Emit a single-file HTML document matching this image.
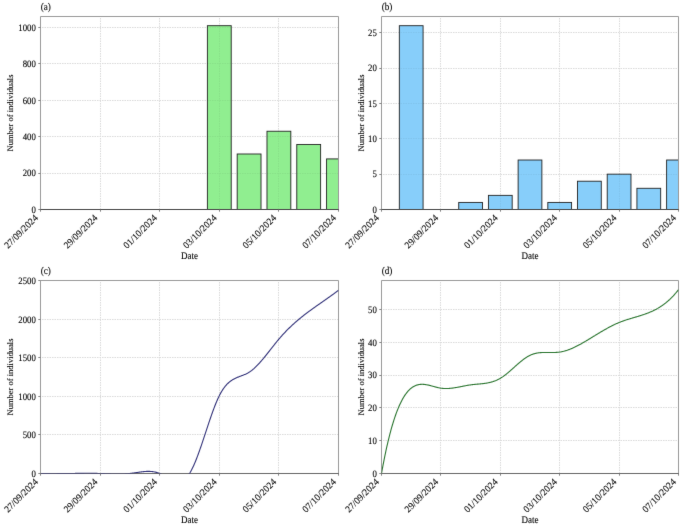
<!DOCTYPE html>
<html><head><meta charset="utf-8"><style>
html,body{margin:0;padding:0;background:#fff;width:685px;height:527px;overflow:hidden;}
svg{display:block;text-rendering:geometricPrecision;}
</style></head><body>
<svg width="685" height="527" viewBox="0 0 685 527">
<defs><filter id="sb" x="0" y="0" width="685" height="527" filterUnits="userSpaceOnUse" color-interpolation-filters="sRGB"><feConvolveMatrix order="3" kernelMatrix="0.0072 0.0847 0.0072 0.0847 1.0000 0.0847 0.0072 0.0847 0.0072" divisor="1.3673" edgeMode="duplicate"/></filter></defs>
<rect width="685" height="527" fill="#fff"/>
<g filter="url(#sb)">
<clipPath id="clipa"><rect x="40.5" y="16.5" width="298.0" height="193.0"/></clipPath>
<clipPath id="clipla"><rect x="40.5" y="16.5" width="298.0" height="193.0"/></clipPath>
<line x1="40.5" y1="18" x2="40.5" y2="209" stroke="#dadada" stroke-width="1" stroke-dasharray="1.5 1"/><line x1="100.5" y1="18" x2="100.5" y2="209" stroke="#dadada" stroke-width="1" stroke-dasharray="1.5 1"/><line x1="159.5" y1="18" x2="159.5" y2="209" stroke="#dadada" stroke-width="1" stroke-dasharray="1.5 1"/><line x1="219.5" y1="18" x2="219.5" y2="209" stroke="#dadada" stroke-width="1" stroke-dasharray="1.5 1"/><line x1="278.5" y1="18" x2="278.5" y2="209" stroke="#dadada" stroke-width="1" stroke-dasharray="1.5 1"/><line x1="338.5" y1="18" x2="338.5" y2="209" stroke="#dadada" stroke-width="1" stroke-dasharray="1.5 1"/><line x1="42" y1="209.5" x2="338" y2="209.5" stroke="#dadada" stroke-width="1" stroke-dasharray="1.5 1"/><line x1="42" y1="173.5" x2="338" y2="173.5" stroke="#dadada" stroke-width="1" stroke-dasharray="1.5 1"/><line x1="42" y1="136.5" x2="338" y2="136.5" stroke="#dadada" stroke-width="1" stroke-dasharray="1.5 1"/><line x1="42" y1="100.5" x2="338" y2="100.5" stroke="#dadada" stroke-width="1" stroke-dasharray="1.5 1"/><line x1="42" y1="63.5" x2="338" y2="63.5" stroke="#dadada" stroke-width="1" stroke-dasharray="1.5 1"/><line x1="42" y1="27.5" x2="338" y2="27.5" stroke="#dadada" stroke-width="1" stroke-dasharray="1.5 1"/>
<g clip-path="url(#clipa)"><rect x="28.58" y="209.50" width="23.84" height="0.00" fill="#90ee90" stroke="#222" stroke-width="0.9"/><rect x="58.38" y="209.50" width="23.84" height="0.00" fill="#90ee90" stroke="#222" stroke-width="0.9"/><rect x="88.18" y="209.50" width="23.84" height="0.00" fill="#90ee90" stroke="#222" stroke-width="0.9"/><rect x="117.98" y="209.50" width="23.84" height="0.00" fill="#90ee90" stroke="#222" stroke-width="0.9"/><rect x="147.78" y="209.50" width="23.84" height="0.00" fill="#90ee90" stroke="#222" stroke-width="0.9"/><rect x="177.58" y="209.50" width="23.84" height="0.00" fill="#90ee90" stroke="#222" stroke-width="0.9"/><rect x="207.38" y="25.69" width="23.84" height="183.81" fill="#90ee90" stroke="#222" stroke-width="0.9"/><rect x="237.18" y="153.99" width="23.84" height="55.51" fill="#90ee90" stroke="#222" stroke-width="0.9"/><rect x="266.98" y="131.24" width="23.84" height="78.26" fill="#90ee90" stroke="#222" stroke-width="0.9"/><rect x="296.78" y="144.53" width="23.84" height="64.97" fill="#90ee90" stroke="#222" stroke-width="0.9"/><rect x="326.58" y="158.91" width="23.84" height="50.59" fill="#90ee90" stroke="#222" stroke-width="0.9"/></g>
<clipPath id="barsa"><rect x="207.38" y="25.69" width="23.84" height="183.81"/><rect x="237.18" y="153.99" width="23.84" height="55.51"/><rect x="266.98" y="131.24" width="23.84" height="78.26"/><rect x="296.78" y="144.53" width="23.84" height="64.97"/><rect x="326.58" y="158.91" width="23.84" height="50.59"/></clipPath>
<g opacity="0.05" clip-path="url(#barsa)"><line x1="40.5" y1="18" x2="40.5" y2="209" stroke="#000" stroke-width="1" stroke-dasharray="1.5 1"/><line x1="100.5" y1="18" x2="100.5" y2="209" stroke="#000" stroke-width="1" stroke-dasharray="1.5 1"/><line x1="159.5" y1="18" x2="159.5" y2="209" stroke="#000" stroke-width="1" stroke-dasharray="1.5 1"/><line x1="219.5" y1="18" x2="219.5" y2="209" stroke="#000" stroke-width="1" stroke-dasharray="1.5 1"/><line x1="278.5" y1="18" x2="278.5" y2="209" stroke="#000" stroke-width="1" stroke-dasharray="1.5 1"/><line x1="338.5" y1="18" x2="338.5" y2="209" stroke="#000" stroke-width="1" stroke-dasharray="1.5 1"/><line x1="42" y1="209.5" x2="338" y2="209.5" stroke="#000" stroke-width="1" stroke-dasharray="1.5 1"/><line x1="42" y1="173.5" x2="338" y2="173.5" stroke="#000" stroke-width="1" stroke-dasharray="1.5 1"/><line x1="42" y1="136.5" x2="338" y2="136.5" stroke="#000" stroke-width="1" stroke-dasharray="1.5 1"/><line x1="42" y1="100.5" x2="338" y2="100.5" stroke="#000" stroke-width="1" stroke-dasharray="1.5 1"/><line x1="42" y1="63.5" x2="338" y2="63.5" stroke="#000" stroke-width="1" stroke-dasharray="1.5 1"/><line x1="42" y1="27.5" x2="338" y2="27.5" stroke="#000" stroke-width="1" stroke-dasharray="1.5 1"/></g>
<path d="M40.5,209.5V16.5H338.5V209.5" fill="none" stroke="#999" stroke-width="1"/>
<line x1="40.0" y1="209.5" x2="339.0" y2="209.5" stroke="#444" stroke-width="1"/>
<line x1="40.5" y1="209.5" x2="40.5" y2="211.7" stroke="#777" stroke-width="0.9"/><line x1="100.5" y1="209.5" x2="100.5" y2="211.7" stroke="#777" stroke-width="0.9"/><line x1="159.5" y1="209.5" x2="159.5" y2="211.7" stroke="#777" stroke-width="0.9"/><line x1="219.5" y1="209.5" x2="219.5" y2="211.7" stroke="#777" stroke-width="0.9"/><line x1="278.5" y1="209.5" x2="278.5" y2="211.7" stroke="#777" stroke-width="0.9"/><line x1="338.5" y1="209.5" x2="338.5" y2="211.7" stroke="#777" stroke-width="0.9"/><line x1="38.3" y1="209.5" x2="40.5" y2="209.5" stroke="#777" stroke-width="0.9"/><line x1="38.3" y1="173.5" x2="40.5" y2="173.5" stroke="#777" stroke-width="0.9"/><line x1="38.3" y1="136.5" x2="40.5" y2="136.5" stroke="#777" stroke-width="0.9"/><line x1="38.3" y1="100.5" x2="40.5" y2="100.5" stroke="#777" stroke-width="0.9"/><line x1="38.3" y1="63.5" x2="40.5" y2="63.5" stroke="#777" stroke-width="0.9"/><line x1="38.3" y1="27.5" x2="40.5" y2="27.5" stroke="#777" stroke-width="0.9"/>
<g font-family='"Liberation Serif", serif' fill="#000" stroke="#000" stroke-width="0.1"><text transform="translate(35.90 212.80) scale(1 1.12)" font-size="8.8" text-anchor="end">0</text><text transform="translate(35.90 176.40) scale(1 1.12)" font-size="8.8" text-anchor="end">200</text><text transform="translate(35.90 140.00) scale(1 1.12)" font-size="8.8" text-anchor="end">400</text><text transform="translate(35.90 103.61) scale(1 1.12)" font-size="8.8" text-anchor="end">600</text><text transform="translate(35.90 67.21) scale(1 1.12)" font-size="8.8" text-anchor="end">800</text><text transform="translate(35.90 30.81) scale(1 1.12)" font-size="8.8" text-anchor="end">1000</text><text transform="translate(38.50 218.50) rotate(-45)" font-size="9.5" text-anchor="end">27/09/2024</text><text transform="translate(98.10 218.50) rotate(-45)" font-size="9.5" text-anchor="end">29/09/2024</text><text transform="translate(157.70 218.50) rotate(-45)" font-size="9.5" text-anchor="end">01/10/2024</text><text transform="translate(217.30 218.50) rotate(-45)" font-size="9.5" text-anchor="end">03/10/2024</text><text transform="translate(276.90 218.50) rotate(-45)" font-size="9.5" text-anchor="end">05/10/2024</text><text transform="translate(336.50 218.50) rotate(-45)" font-size="9.5" text-anchor="end">07/10/2024</text><text transform="translate(189.50 259.00) scale(1 1.12)" font-size="9.0" text-anchor="middle">Date</text><text transform="translate(13.20 113.00) rotate(-90)" font-size="8.5" text-anchor="middle">Number of individuals</text><text transform="translate(40.70 10.00) scale(1 1.12)" font-size="9.2">(a)</text></g>
<clipPath id="clipb"><rect x="381.5" y="16.5" width="297.0" height="193.0"/></clipPath>
<clipPath id="cliplb"><rect x="381.5" y="16.5" width="297.0" height="193.0"/></clipPath>
<line x1="381.5" y1="18" x2="381.5" y2="209" stroke="#dadada" stroke-width="1" stroke-dasharray="1.5 1"/><line x1="440.5" y1="18" x2="440.5" y2="209" stroke="#dadada" stroke-width="1" stroke-dasharray="1.5 1"/><line x1="500.5" y1="18" x2="500.5" y2="209" stroke="#dadada" stroke-width="1" stroke-dasharray="1.5 1"/><line x1="559.5" y1="18" x2="559.5" y2="209" stroke="#dadada" stroke-width="1" stroke-dasharray="1.5 1"/><line x1="619.5" y1="18" x2="619.5" y2="209" stroke="#dadada" stroke-width="1" stroke-dasharray="1.5 1"/><line x1="678.5" y1="18" x2="678.5" y2="209" stroke="#dadada" stroke-width="1" stroke-dasharray="1.5 1"/><line x1="383" y1="209.5" x2="678" y2="209.5" stroke="#dadada" stroke-width="1" stroke-dasharray="1.5 1"/><line x1="383" y1="174.5" x2="678" y2="174.5" stroke="#dadada" stroke-width="1" stroke-dasharray="1.5 1"/><line x1="383" y1="138.5" x2="678" y2="138.5" stroke="#dadada" stroke-width="1" stroke-dasharray="1.5 1"/><line x1="383" y1="103.5" x2="678" y2="103.5" stroke="#dadada" stroke-width="1" stroke-dasharray="1.5 1"/><line x1="383" y1="68.5" x2="678" y2="68.5" stroke="#dadada" stroke-width="1" stroke-dasharray="1.5 1"/><line x1="383" y1="32.5" x2="678" y2="32.5" stroke="#dadada" stroke-width="1" stroke-dasharray="1.5 1"/>
<g clip-path="url(#clipb)"><rect x="369.62" y="209.50" width="23.76" height="0.00" fill="#87cefa" stroke="#222" stroke-width="0.9"/><rect x="399.32" y="25.69" width="23.76" height="183.81" fill="#87cefa" stroke="#222" stroke-width="0.9"/><rect x="429.02" y="209.50" width="23.76" height="0.00" fill="#87cefa" stroke="#222" stroke-width="0.9"/><rect x="458.72" y="202.43" width="23.76" height="7.07" fill="#87cefa" stroke="#222" stroke-width="0.9"/><rect x="488.42" y="195.36" width="23.76" height="14.14" fill="#87cefa" stroke="#222" stroke-width="0.9"/><rect x="518.12" y="160.01" width="23.76" height="49.49" fill="#87cefa" stroke="#222" stroke-width="0.9"/><rect x="547.82" y="202.43" width="23.76" height="7.07" fill="#87cefa" stroke="#222" stroke-width="0.9"/><rect x="577.52" y="181.22" width="23.76" height="28.28" fill="#87cefa" stroke="#222" stroke-width="0.9"/><rect x="607.22" y="174.15" width="23.76" height="35.35" fill="#87cefa" stroke="#222" stroke-width="0.9"/><rect x="636.92" y="188.29" width="23.76" height="21.21" fill="#87cefa" stroke="#222" stroke-width="0.9"/><rect x="666.62" y="160.01" width="23.76" height="49.49" fill="#87cefa" stroke="#222" stroke-width="0.9"/></g>
<clipPath id="barsb"><rect x="399.32" y="25.69" width="23.76" height="183.81"/><rect x="458.72" y="202.43" width="23.76" height="7.07"/><rect x="488.42" y="195.36" width="23.76" height="14.14"/><rect x="518.12" y="160.01" width="23.76" height="49.49"/><rect x="547.82" y="202.43" width="23.76" height="7.07"/><rect x="577.52" y="181.22" width="23.76" height="28.28"/><rect x="607.22" y="174.15" width="23.76" height="35.35"/><rect x="636.92" y="188.29" width="23.76" height="21.21"/><rect x="666.62" y="160.01" width="23.76" height="49.49"/></clipPath>
<g opacity="0.05" clip-path="url(#barsb)"><line x1="381.5" y1="18" x2="381.5" y2="209" stroke="#000" stroke-width="1" stroke-dasharray="1.5 1"/><line x1="440.5" y1="18" x2="440.5" y2="209" stroke="#000" stroke-width="1" stroke-dasharray="1.5 1"/><line x1="500.5" y1="18" x2="500.5" y2="209" stroke="#000" stroke-width="1" stroke-dasharray="1.5 1"/><line x1="559.5" y1="18" x2="559.5" y2="209" stroke="#000" stroke-width="1" stroke-dasharray="1.5 1"/><line x1="619.5" y1="18" x2="619.5" y2="209" stroke="#000" stroke-width="1" stroke-dasharray="1.5 1"/><line x1="678.5" y1="18" x2="678.5" y2="209" stroke="#000" stroke-width="1" stroke-dasharray="1.5 1"/><line x1="383" y1="209.5" x2="678" y2="209.5" stroke="#000" stroke-width="1" stroke-dasharray="1.5 1"/><line x1="383" y1="174.5" x2="678" y2="174.5" stroke="#000" stroke-width="1" stroke-dasharray="1.5 1"/><line x1="383" y1="138.5" x2="678" y2="138.5" stroke="#000" stroke-width="1" stroke-dasharray="1.5 1"/><line x1="383" y1="103.5" x2="678" y2="103.5" stroke="#000" stroke-width="1" stroke-dasharray="1.5 1"/><line x1="383" y1="68.5" x2="678" y2="68.5" stroke="#000" stroke-width="1" stroke-dasharray="1.5 1"/><line x1="383" y1="32.5" x2="678" y2="32.5" stroke="#000" stroke-width="1" stroke-dasharray="1.5 1"/></g>
<path d="M381.5,209.5V16.5H678.5V209.5" fill="none" stroke="#999" stroke-width="1"/>
<line x1="381.0" y1="209.5" x2="679.0" y2="209.5" stroke="#444" stroke-width="1"/>
<line x1="381.5" y1="209.5" x2="381.5" y2="211.7" stroke="#777" stroke-width="0.9"/><line x1="440.5" y1="209.5" x2="440.5" y2="211.7" stroke="#777" stroke-width="0.9"/><line x1="500.5" y1="209.5" x2="500.5" y2="211.7" stroke="#777" stroke-width="0.9"/><line x1="559.5" y1="209.5" x2="559.5" y2="211.7" stroke="#777" stroke-width="0.9"/><line x1="619.5" y1="209.5" x2="619.5" y2="211.7" stroke="#777" stroke-width="0.9"/><line x1="678.5" y1="209.5" x2="678.5" y2="211.7" stroke="#777" stroke-width="0.9"/><line x1="379.3" y1="209.5" x2="381.5" y2="209.5" stroke="#777" stroke-width="0.9"/><line x1="379.3" y1="174.5" x2="381.5" y2="174.5" stroke="#777" stroke-width="0.9"/><line x1="379.3" y1="138.5" x2="381.5" y2="138.5" stroke="#777" stroke-width="0.9"/><line x1="379.3" y1="103.5" x2="381.5" y2="103.5" stroke="#777" stroke-width="0.9"/><line x1="379.3" y1="68.5" x2="381.5" y2="68.5" stroke="#777" stroke-width="0.9"/><line x1="379.3" y1="32.5" x2="381.5" y2="32.5" stroke="#777" stroke-width="0.9"/>
<g font-family='"Liberation Serif", serif' fill="#000" stroke="#000" stroke-width="0.1"><text transform="translate(376.90 212.80) scale(1 1.12)" font-size="8.8" text-anchor="end">0</text><text transform="translate(376.90 177.45) scale(1 1.12)" font-size="8.8" text-anchor="end">5</text><text transform="translate(376.90 142.10) scale(1 1.12)" font-size="8.8" text-anchor="end">10</text><text transform="translate(376.90 106.76) scale(1 1.12)" font-size="8.8" text-anchor="end">15</text><text transform="translate(376.90 71.41) scale(1 1.12)" font-size="8.8" text-anchor="end">20</text><text transform="translate(376.90 36.06) scale(1 1.12)" font-size="8.8" text-anchor="end">25</text><text transform="translate(379.50 218.50) rotate(-45)" font-size="9.5" text-anchor="end">27/09/2024</text><text transform="translate(438.90 218.50) rotate(-45)" font-size="9.5" text-anchor="end">29/09/2024</text><text transform="translate(498.30 218.50) rotate(-45)" font-size="9.5" text-anchor="end">01/10/2024</text><text transform="translate(557.70 218.50) rotate(-45)" font-size="9.5" text-anchor="end">03/10/2024</text><text transform="translate(617.10 218.50) rotate(-45)" font-size="9.5" text-anchor="end">05/10/2024</text><text transform="translate(676.50 218.50) rotate(-45)" font-size="9.5" text-anchor="end">07/10/2024</text><text transform="translate(530.00 259.00) scale(1 1.12)" font-size="9.0" text-anchor="middle">Date</text><text transform="translate(363.50 113.00) rotate(-90)" font-size="8.5" text-anchor="middle">Number of individuals</text><text transform="translate(381.70 10.00) scale(1 1.12)" font-size="9.2">(b)</text></g>
<clipPath id="clipc"><rect x="40.5" y="280.5" width="298.0" height="193.0"/></clipPath>
<clipPath id="cliplc"><rect x="40.5" y="280.5" width="298.0" height="193.0"/></clipPath>
<line x1="40.5" y1="282" x2="40.5" y2="473" stroke="#dadada" stroke-width="1" stroke-dasharray="1.5 1"/><line x1="100.5" y1="282" x2="100.5" y2="473" stroke="#dadada" stroke-width="1" stroke-dasharray="1.5 1"/><line x1="159.5" y1="282" x2="159.5" y2="473" stroke="#dadada" stroke-width="1" stroke-dasharray="1.5 1"/><line x1="219.5" y1="282" x2="219.5" y2="473" stroke="#dadada" stroke-width="1" stroke-dasharray="1.5 1"/><line x1="278.5" y1="282" x2="278.5" y2="473" stroke="#dadada" stroke-width="1" stroke-dasharray="1.5 1"/><line x1="338.5" y1="282" x2="338.5" y2="473" stroke="#dadada" stroke-width="1" stroke-dasharray="1.5 1"/><line x1="42" y1="473.5" x2="338" y2="473.5" stroke="#dadada" stroke-width="1" stroke-dasharray="1.5 1"/><line x1="42" y1="434.5" x2="338" y2="434.5" stroke="#dadada" stroke-width="1" stroke-dasharray="1.5 1"/><line x1="42" y1="396.5" x2="338" y2="396.5" stroke="#dadada" stroke-width="1" stroke-dasharray="1.5 1"/><line x1="42" y1="357.5" x2="338" y2="357.5" stroke="#dadada" stroke-width="1" stroke-dasharray="1.5 1"/><line x1="42" y1="319.5" x2="338" y2="319.5" stroke="#dadada" stroke-width="1" stroke-dasharray="1.5 1"/><line x1="42" y1="280.5" x2="338" y2="280.5" stroke="#dadada" stroke-width="1" stroke-dasharray="1.5 1"/>
<path d="M40.5,473.5V280.5H338.5V473.5" fill="none" stroke="#999" stroke-width="1"/>
<line x1="40.0" y1="473.5" x2="339.0" y2="473.5" stroke="#666" stroke-width="1"/>
<polyline clip-path="url(#cliplc)" points="40.50,473.50 41.00,473.52 41.49,473.53 41.99,473.54 42.49,473.56 42.99,473.57 43.48,473.58 43.98,473.59 44.48,473.60 44.98,473.61 45.47,473.62 45.97,473.63 46.47,473.64 46.97,473.65 47.46,473.65 47.96,473.66 48.46,473.66 48.96,473.67 49.45,473.67 49.95,473.67 50.45,473.68 50.95,473.68 51.44,473.68 51.94,473.68 52.44,473.68 52.94,473.68 53.43,473.68 53.93,473.68 54.43,473.68 54.93,473.68 55.42,473.68 55.92,473.68 56.42,473.68 56.92,473.67 57.41,473.67 57.91,473.67 58.41,473.66 58.91,473.66 59.40,473.65 59.90,473.65 60.40,473.64 60.90,473.64 61.39,473.63 61.89,473.62 62.39,473.62 62.89,473.61 63.38,473.61 63.88,473.60 64.38,473.59 64.88,473.58 65.37,473.58 65.87,473.57 66.37,473.56 66.87,473.55 67.36,473.55 67.86,473.54 68.36,473.53 68.86,473.52 69.35,473.52 69.85,473.51 70.35,473.50 70.85,473.49 71.34,473.48 71.84,473.48 72.34,473.47 72.84,473.46 73.33,473.45 73.83,473.44 74.33,473.44 74.83,473.43 75.32,473.42 75.82,473.41 76.32,473.41 76.82,473.40 77.31,473.39 77.81,473.39 78.31,473.38 78.81,473.37 79.30,473.37 79.80,473.36 80.30,473.36 80.80,473.35 81.29,473.35 81.79,473.34 82.29,473.34 82.79,473.33 83.28,473.33 83.78,473.33 84.28,473.32 84.78,473.32 85.27,473.32 85.77,473.32 86.27,473.32 86.77,473.32 87.26,473.32 87.76,473.32 88.26,473.32 88.76,473.32 89.25,473.32 89.75,473.32 90.25,473.32 90.75,473.33 91.24,473.33 91.74,473.33 92.24,473.34 92.74,473.34 93.23,473.35 93.73,473.36 94.23,473.36 94.73,473.37 95.22,473.38 95.72,473.39 96.22,473.40 96.72,473.41 97.21,473.42 97.71,473.43 98.21,473.44 98.71,473.46 99.20,473.47 99.70,473.49 100.20,473.50 100.70,473.52 101.19,473.54 101.69,473.56 102.19,473.57 102.69,473.59 103.18,473.61 103.68,473.63 104.18,473.65 104.68,473.67 105.17,473.69 105.67,473.71 106.17,473.73 106.67,473.76 107.16,473.78 107.66,473.80 108.16,473.82 108.66,473.84 109.15,473.86 109.65,473.88 110.15,473.90 110.65,473.91 111.14,473.93 111.64,473.95 112.14,473.96 112.64,473.98 113.13,473.99 113.63,474.01 114.13,474.02 114.63,474.03 115.12,474.04 115.62,474.05 116.12,474.06 116.62,474.07 117.11,474.07 117.61,474.07 118.11,474.08 118.61,474.08 119.10,474.08 119.60,474.07 120.10,474.07 120.60,474.06 121.09,474.05 121.59,474.04 122.09,474.03 122.59,474.01 123.08,474.00 123.58,473.98 124.08,473.95 124.58,473.93 125.07,473.90 125.57,473.87 126.07,473.84 126.57,473.81 127.06,473.77 127.56,473.73 128.06,473.69 128.56,473.64 129.05,473.59 129.55,473.54 130.05,473.48 130.55,473.42 131.04,473.36 131.54,473.30 132.04,473.23 132.54,473.16 133.03,473.09 133.53,473.02 134.03,472.95 134.53,472.87 135.02,472.80 135.52,472.72 136.02,472.65 136.52,472.57 137.01,472.49 137.51,472.42 138.01,472.34 138.51,472.27 139.00,472.20 139.50,472.12 140.00,472.06 140.50,471.99 140.99,471.92 141.49,471.86 141.99,471.80 142.49,471.74 142.98,471.69 143.48,471.64 143.98,471.59 144.48,471.55 144.97,471.51 145.47,471.47 145.97,471.44 146.47,471.42 146.96,471.40 147.46,471.39 147.96,471.38 148.46,471.38 148.95,471.38 149.45,471.39 149.95,471.41 150.45,471.43 150.94,471.47 151.44,471.51 151.94,471.55 152.44,471.61 152.93,471.67 153.43,471.75 153.93,471.83 154.43,471.92 154.92,472.02 155.42,472.13 155.92,472.25 156.42,472.38 156.91,472.51 157.41,472.67 157.91,472.83 158.41,473.00 158.90,473.18 159.40,473.38 159.90,473.58 160.40,473.80 160.89,474.03 161.39,474.27 161.89,474.52 162.39,474.78 162.88,475.04 163.38,475.31 163.88,475.58 164.38,475.86 164.87,476.14 165.37,476.42 165.87,476.71 166.37,476.99 166.86,477.27 167.36,477.56 167.86,477.84 168.36,478.11 168.85,478.38 169.35,478.65 169.85,478.91 170.35,479.16 170.84,479.40 171.34,479.64 171.84,479.86 172.34,480.08 172.83,480.28 173.33,480.46 173.83,480.64 174.33,480.80 174.82,480.94 175.32,481.07 175.82,481.18 176.32,481.26 176.81,481.33 177.31,481.38 177.81,481.41 178.31,481.42 178.80,481.40 179.30,481.35 179.80,481.29 180.30,481.19 180.79,481.07 181.29,480.92 181.79,480.74 182.29,480.53 182.78,480.29 183.28,480.01 183.78,479.71 184.28,479.37 184.77,478.99 185.27,478.58 185.77,478.13 186.27,477.65 186.76,477.12 187.26,476.56 187.76,475.95 188.26,475.30 188.75,474.62 189.25,473.88 189.75,473.11 190.25,472.28 190.74,471.42 191.24,470.51 191.74,469.57 192.24,468.58 192.73,467.56 193.23,466.50 193.73,465.41 194.23,464.29 194.72,463.13 195.22,461.94 195.72,460.72 196.22,459.48 196.71,458.21 197.21,456.91 197.71,455.59 198.21,454.25 198.70,452.89 199.20,451.51 199.70,450.11 200.20,448.69 200.69,447.26 201.19,445.81 201.69,444.35 202.19,442.88 202.68,441.40 203.18,439.92 203.68,438.42 204.18,436.92 204.67,435.42 205.17,433.91 205.67,432.40 206.17,430.89 206.66,429.38 207.16,427.88 207.66,426.37 208.16,424.88 208.65,423.39 209.15,421.91 209.65,420.44 210.15,418.97 210.64,417.53 211.14,416.09 211.64,414.67 212.14,413.27 212.63,411.88 213.13,410.52 213.63,409.17 214.13,407.85 214.62,406.55 215.12,405.27 215.62,404.02 216.12,402.80 216.61,401.60 217.11,400.44 217.61,399.31 218.11,398.21 218.60,397.14 219.10,396.12 219.60,395.12 220.10,394.17 220.59,393.25 221.09,392.37 221.59,391.52 222.09,390.70 222.58,389.92 223.08,389.17 223.58,388.45 224.08,387.76 224.57,387.10 225.07,386.47 225.57,385.87 226.07,385.29 226.56,384.74 227.06,384.21 227.56,383.71 228.06,383.23 228.55,382.77 229.05,382.33 229.55,381.92 230.05,381.52 230.54,381.14 231.04,380.78 231.54,380.44 232.04,380.11 232.53,379.80 233.03,379.50 233.53,379.22 234.03,378.95 234.52,378.69 235.02,378.44 235.52,378.20 236.02,377.97 236.51,377.75 237.01,377.54 237.51,377.33 238.01,377.13 238.50,376.93 239.00,376.74 239.50,376.55 240.00,376.36 240.49,376.17 240.99,375.98 241.49,375.80 241.99,375.61 242.48,375.42 242.98,375.22 243.48,375.02 243.98,374.82 244.47,374.61 244.97,374.39 245.47,374.17 245.97,373.94 246.46,373.70 246.96,373.44 247.46,373.18 247.96,372.91 248.45,372.62 248.95,372.32 249.45,372.00 249.95,371.67 250.44,371.33 250.94,370.97 251.44,370.60 251.94,370.21 252.43,369.81 252.93,369.40 253.43,368.98 253.93,368.55 254.42,368.10 254.92,367.64 255.42,367.17 255.92,366.69 256.41,366.20 256.91,365.71 257.41,365.20 257.91,364.68 258.40,364.15 258.90,363.62 259.40,363.08 259.90,362.53 260.39,361.97 260.89,361.40 261.39,360.83 261.89,360.25 262.38,359.67 262.88,359.08 263.38,358.48 263.88,357.88 264.37,357.28 264.87,356.67 265.37,356.05 265.87,355.44 266.36,354.82 266.86,354.19 267.36,353.57 267.86,352.94 268.35,352.31 268.85,351.68 269.35,351.04 269.85,350.41 270.34,349.77 270.84,349.14 271.34,348.50 271.84,347.87 272.33,347.24 272.83,346.60 273.33,345.97 273.83,345.34 274.32,344.72 274.82,344.09 275.32,343.47 275.82,342.85 276.31,342.24 276.81,341.63 277.31,341.02 277.81,340.42 278.30,339.82 278.80,339.23 279.30,338.64 279.80,338.06 280.29,337.48 280.79,336.91 281.29,336.35 281.79,335.79 282.28,335.23 282.78,334.68 283.28,334.14 283.78,333.60 284.27,333.07 284.77,332.54 285.27,332.01 285.77,331.50 286.26,330.98 286.76,330.47 287.26,329.97 287.76,329.46 288.25,328.97 288.75,328.48 289.25,327.99 289.75,327.51 290.24,327.03 290.74,326.55 291.24,326.08 291.74,325.61 292.23,325.15 292.73,324.69 293.23,324.24 293.73,323.78 294.22,323.34 294.72,322.89 295.22,322.45 295.72,322.01 296.21,321.58 296.71,321.15 297.21,320.72 297.71,320.30 298.20,319.88 298.70,319.46 299.20,319.05 299.70,318.63 300.19,318.22 300.69,317.82 301.19,317.42 301.69,317.01 302.18,316.62 302.68,316.22 303.18,315.83 303.68,315.44 304.17,315.05 304.67,314.66 305.17,314.28 305.67,313.90 306.16,313.52 306.66,313.14 307.16,312.77 307.66,312.39 308.15,312.02 308.65,311.65 309.15,311.28 309.65,310.92 310.14,310.55 310.64,310.19 311.14,309.83 311.64,309.47 312.13,309.11 312.63,308.75 313.13,308.39 313.63,308.03 314.12,307.68 314.62,307.33 315.12,306.97 315.62,306.62 316.11,306.27 316.61,305.92 317.11,305.57 317.61,305.22 318.10,304.87 318.60,304.52 319.10,304.18 319.60,303.83 320.09,303.48 320.59,303.13 321.09,302.79 321.59,302.44 322.08,302.09 322.58,301.74 323.08,301.40 323.58,301.05 324.07,300.70 324.57,300.35 325.07,300.01 325.57,299.66 326.06,299.31 326.56,298.96 327.06,298.61 327.56,298.25 328.05,297.90 328.55,297.55 329.05,297.20 329.55,296.84 330.04,296.48 330.54,296.13 331.04,295.77 331.54,295.41 332.03,295.05 332.53,294.69 333.03,294.32 333.53,293.96 334.02,293.59 334.52,293.22 335.02,292.85 335.52,292.48 336.01,292.10 336.51,291.73 337.01,291.35 337.51,290.97 338.00,290.59 338.50,290.20" fill="none" stroke="#303078" stroke-width="1.1" stroke-linejoin="round"/>
<line x1="40.5" y1="473.5" x2="40.5" y2="475.7" stroke="#777" stroke-width="0.9"/><line x1="100.5" y1="473.5" x2="100.5" y2="475.7" stroke="#777" stroke-width="0.9"/><line x1="159.5" y1="473.5" x2="159.5" y2="475.7" stroke="#777" stroke-width="0.9"/><line x1="219.5" y1="473.5" x2="219.5" y2="475.7" stroke="#777" stroke-width="0.9"/><line x1="278.5" y1="473.5" x2="278.5" y2="475.7" stroke="#777" stroke-width="0.9"/><line x1="338.5" y1="473.5" x2="338.5" y2="475.7" stroke="#777" stroke-width="0.9"/><line x1="38.3" y1="473.5" x2="40.5" y2="473.5" stroke="#777" stroke-width="0.9"/><line x1="38.3" y1="434.5" x2="40.5" y2="434.5" stroke="#777" stroke-width="0.9"/><line x1="38.3" y1="396.5" x2="40.5" y2="396.5" stroke="#777" stroke-width="0.9"/><line x1="38.3" y1="357.5" x2="40.5" y2="357.5" stroke="#777" stroke-width="0.9"/><line x1="38.3" y1="319.5" x2="40.5" y2="319.5" stroke="#777" stroke-width="0.9"/><line x1="38.3" y1="280.5" x2="40.5" y2="280.5" stroke="#777" stroke-width="0.9"/>
<g font-family='"Liberation Serif", serif' fill="#000" stroke="#000" stroke-width="0.1"><text transform="translate(35.90 476.80) scale(1 1.12)" font-size="8.8" text-anchor="end">0</text><text transform="translate(35.90 438.29) scale(1 1.12)" font-size="8.8" text-anchor="end">500</text><text transform="translate(35.90 399.78) scale(1 1.12)" font-size="8.8" text-anchor="end">1000</text><text transform="translate(35.90 361.28) scale(1 1.12)" font-size="8.8" text-anchor="end">1500</text><text transform="translate(35.90 322.77) scale(1 1.12)" font-size="8.8" text-anchor="end">2000</text><text transform="translate(35.90 284.26) scale(1 1.12)" font-size="8.8" text-anchor="end">2500</text><text transform="translate(38.50 482.50) rotate(-45)" font-size="9.5" text-anchor="end">27/09/2024</text><text transform="translate(98.10 482.50) rotate(-45)" font-size="9.5" text-anchor="end">29/09/2024</text><text transform="translate(157.70 482.50) rotate(-45)" font-size="9.5" text-anchor="end">01/10/2024</text><text transform="translate(217.30 482.50) rotate(-45)" font-size="9.5" text-anchor="end">03/10/2024</text><text transform="translate(276.90 482.50) rotate(-45)" font-size="9.5" text-anchor="end">05/10/2024</text><text transform="translate(336.50 482.50) rotate(-45)" font-size="9.5" text-anchor="end">07/10/2024</text><text transform="translate(189.50 523.00) scale(1 1.12)" font-size="9.0" text-anchor="middle">Date</text><text transform="translate(13.20 377.00) rotate(-90)" font-size="8.5" text-anchor="middle">Number of individuals</text><text transform="translate(40.70 274.00) scale(1 1.12)" font-size="9.2">(c)</text></g>
<clipPath id="clipd"><rect x="381.5" y="280.5" width="297.0" height="193.0"/></clipPath>
<clipPath id="clipld"><rect x="381.5" y="280.5" width="297.0" height="193.0"/></clipPath>
<line x1="381.5" y1="282" x2="381.5" y2="473" stroke="#dadada" stroke-width="1" stroke-dasharray="1.5 1"/><line x1="440.5" y1="282" x2="440.5" y2="473" stroke="#dadada" stroke-width="1" stroke-dasharray="1.5 1"/><line x1="500.5" y1="282" x2="500.5" y2="473" stroke="#dadada" stroke-width="1" stroke-dasharray="1.5 1"/><line x1="559.5" y1="282" x2="559.5" y2="473" stroke="#dadada" stroke-width="1" stroke-dasharray="1.5 1"/><line x1="619.5" y1="282" x2="619.5" y2="473" stroke="#dadada" stroke-width="1" stroke-dasharray="1.5 1"/><line x1="678.5" y1="282" x2="678.5" y2="473" stroke="#dadada" stroke-width="1" stroke-dasharray="1.5 1"/><line x1="383" y1="473.5" x2="678" y2="473.5" stroke="#dadada" stroke-width="1" stroke-dasharray="1.5 1"/><line x1="383" y1="440.5" x2="678" y2="440.5" stroke="#dadada" stroke-width="1" stroke-dasharray="1.5 1"/><line x1="383" y1="407.5" x2="678" y2="407.5" stroke="#dadada" stroke-width="1" stroke-dasharray="1.5 1"/><line x1="383" y1="375.5" x2="678" y2="375.5" stroke="#dadada" stroke-width="1" stroke-dasharray="1.5 1"/><line x1="383" y1="342.5" x2="678" y2="342.5" stroke="#dadada" stroke-width="1" stroke-dasharray="1.5 1"/><line x1="383" y1="309.5" x2="678" y2="309.5" stroke="#dadada" stroke-width="1" stroke-dasharray="1.5 1"/>
<path d="M381.5,473.5V280.5H678.5V473.5" fill="none" stroke="#999" stroke-width="1"/>
<line x1="381.0" y1="473.5" x2="679.0" y2="473.5" stroke="#666" stroke-width="1"/>
<polyline clip-path="url(#clipld)" points="381.50,473.50 382.00,470.75 382.49,468.06 382.99,465.42 383.48,462.84 383.98,460.31 384.47,457.83 384.97,455.41 385.47,453.04 385.96,450.72 386.46,448.45 386.95,446.23 387.45,444.06 387.95,441.94 388.44,439.87 388.94,437.84 389.43,435.87 389.93,433.94 390.42,432.06 390.92,430.23 391.42,428.44 391.91,426.69 392.41,424.99 392.90,423.33 393.40,421.72 393.90,420.15 394.39,418.63 394.89,417.14 395.38,415.70 395.88,414.29 396.37,412.93 396.87,411.61 397.37,410.32 397.86,409.08 398.36,407.87 398.85,406.70 399.35,405.57 399.85,404.47 400.34,403.41 400.84,402.39 401.33,401.40 401.83,400.44 402.32,399.52 402.82,398.63 403.32,397.78 403.81,396.96 404.31,396.16 404.80,395.40 405.30,394.67 405.80,393.98 406.29,393.31 406.79,392.67 407.28,392.05 407.78,391.47 408.27,390.91 408.77,390.38 409.27,389.88 409.76,389.40 410.26,388.95 410.75,388.52 411.25,388.12 411.75,387.74 412.24,387.39 412.74,387.05 413.23,386.74 413.73,386.45 414.22,386.18 414.72,385.93 415.22,385.71 415.71,385.50 416.21,385.31 416.70,385.14 417.20,384.98 417.70,384.85 418.19,384.73 418.69,384.63 419.18,384.54 419.68,384.47 420.17,384.41 420.67,384.37 421.17,384.34 421.66,384.32 422.16,384.32 422.65,384.32 423.15,384.34 423.65,384.37 424.14,384.41 424.64,384.46 425.13,384.52 425.63,384.59 426.12,384.67 426.62,384.75 427.12,384.85 427.61,384.94 428.11,385.05 428.60,385.16 429.10,385.27 429.60,385.39 430.09,385.52 430.59,385.65 431.08,385.78 431.58,385.91 432.07,386.04 432.57,386.18 433.07,386.32 433.56,386.45 434.06,386.59 434.55,386.73 435.05,386.86 435.55,386.99 436.04,387.12 436.54,387.25 437.03,387.37 437.53,387.49 438.02,387.61 438.52,387.72 439.02,387.82 439.51,387.92 440.01,388.01 440.50,388.10 441.00,388.17 441.49,388.24 441.99,388.30 442.49,388.36 442.98,388.40 443.48,388.44 443.97,388.47 444.47,388.50 444.97,388.51 445.46,388.52 445.96,388.53 446.45,388.53 446.95,388.52 447.44,388.50 447.94,388.48 448.44,388.46 448.93,388.43 449.43,388.39 449.92,388.36 450.42,388.31 450.92,388.26 451.41,388.21 451.91,388.15 452.40,388.09 452.90,388.02 453.39,387.96 453.89,387.88 454.39,387.81 454.88,387.73 455.38,387.65 455.87,387.57 456.37,387.48 456.87,387.40 457.36,387.31 457.86,387.21 458.35,387.12 458.85,387.03 459.34,386.93 459.84,386.84 460.34,386.74 460.83,386.64 461.33,386.54 461.82,386.44 462.32,386.35 462.82,386.25 463.31,386.15 463.81,386.05 464.30,385.96 464.80,385.86 465.29,385.77 465.79,385.67 466.29,385.58 466.78,385.49 467.28,385.40 467.77,385.32 468.27,385.23 468.77,385.15 469.26,385.07 469.76,385.00 470.25,384.93 470.75,384.86 471.24,384.79 471.74,384.73 472.24,384.67 472.73,384.61 473.23,384.56 473.72,384.50 474.22,384.45 474.72,384.40 475.21,384.35 475.71,384.31 476.20,384.26 476.70,384.22 477.19,384.17 477.69,384.13 478.19,384.08 478.68,384.04 479.18,383.99 479.67,383.95 480.17,383.90 480.67,383.85 481.16,383.80 481.66,383.75 482.15,383.70 482.65,383.64 483.14,383.59 483.64,383.52 484.14,383.46 484.63,383.39 485.13,383.33 485.62,383.25 486.12,383.17 486.62,383.09 487.11,383.01 487.61,382.92 488.10,382.82 488.60,382.72 489.09,382.62 489.59,382.51 490.09,382.39 490.58,382.27 491.08,382.14 491.57,382.00 492.07,381.86 492.57,381.71 493.06,381.56 493.56,381.39 494.05,381.22 494.55,381.04 495.04,380.86 495.54,380.66 496.04,380.46 496.53,380.24 497.03,380.02 497.52,379.79 498.02,379.55 498.52,379.30 499.01,379.04 499.51,378.77 500.00,378.49 500.50,378.19 500.99,377.89 501.49,377.58 501.99,377.26 502.48,376.92 502.98,376.58 503.47,376.23 503.97,375.87 504.46,375.50 504.96,375.13 505.46,374.75 505.95,374.36 506.45,373.96 506.94,373.56 507.44,373.16 507.94,372.74 508.43,372.33 508.93,371.91 509.42,371.48 509.92,371.05 510.41,370.62 510.91,370.19 511.41,369.75 511.90,369.31 512.40,368.87 512.89,368.43 513.39,367.98 513.89,367.54 514.38,367.10 514.88,366.65 515.37,366.21 515.87,365.77 516.36,365.33 516.86,364.89 517.36,364.45 517.85,364.02 518.35,363.59 518.84,363.16 519.34,362.74 519.84,362.32 520.33,361.91 520.83,361.50 521.32,361.10 521.82,360.70 522.31,360.31 522.81,359.92 523.31,359.55 523.80,359.18 524.30,358.81 524.79,358.46 525.29,358.11 525.79,357.78 526.28,357.45 526.78,357.13 527.27,356.83 527.77,356.53 528.26,356.24 528.76,355.97 529.26,355.71 529.75,355.46 530.25,355.22 530.74,354.99 531.24,354.78 531.74,354.58 532.23,354.39 532.73,354.21 533.22,354.05 533.72,353.89 534.21,353.74 534.71,353.61 535.21,353.48 535.70,353.36 536.20,353.25 536.69,353.15 537.19,353.06 537.69,352.98 538.18,352.90 538.68,352.83 539.17,352.77 539.67,352.71 540.16,352.66 540.66,352.62 541.16,352.58 541.65,352.55 542.15,352.52 542.64,352.50 543.14,352.48 543.64,352.47 544.13,352.46 544.63,352.45 545.12,352.44 545.62,352.44 546.11,352.44 546.61,352.44 547.11,352.45 547.60,352.45 548.10,352.46 548.59,352.46 549.09,352.47 549.59,352.48 550.08,352.48 550.58,352.49 551.07,352.49 551.57,352.49 552.06,352.50 552.56,352.49 553.06,352.49 553.55,352.49 554.05,352.48 554.54,352.46 555.04,352.45 555.54,352.43 556.03,352.40 556.53,352.37 557.02,352.34 557.52,352.30 558.01,352.26 558.51,352.20 559.01,352.15 559.50,352.08 560.00,352.01 560.49,351.93 560.99,351.85 561.48,351.75 561.98,351.66 562.48,351.55 562.97,351.44 563.47,351.32 563.96,351.19 564.46,351.06 564.96,350.92 565.45,350.78 565.95,350.63 566.44,350.48 566.94,350.32 567.43,350.15 567.93,349.98 568.43,349.80 568.92,349.62 569.42,349.43 569.91,349.24 570.41,349.04 570.91,348.84 571.40,348.63 571.90,348.42 572.39,348.20 572.89,347.98 573.38,347.76 573.88,347.53 574.38,347.30 574.87,347.06 575.37,346.82 575.86,346.58 576.36,346.33 576.86,346.08 577.35,345.83 577.85,345.57 578.34,345.31 578.84,345.04 579.33,344.78 579.83,344.51 580.33,344.24 580.82,343.96 581.32,343.69 581.81,343.41 582.31,343.13 582.81,342.84 583.30,342.56 583.80,342.27 584.29,341.98 584.79,341.69 585.28,341.40 585.78,341.10 586.28,340.81 586.77,340.51 587.27,340.21 587.76,339.92 588.26,339.62 588.76,339.32 589.25,339.02 589.75,338.71 590.24,338.41 590.74,338.11 591.23,337.81 591.73,337.50 592.23,337.20 592.72,336.90 593.22,336.59 593.71,336.29 594.21,335.99 594.71,335.69 595.20,335.38 595.70,335.08 596.19,334.78 596.69,334.48 597.18,334.18 597.68,333.88 598.18,333.58 598.67,333.28 599.17,332.98 599.66,332.68 600.16,332.39 600.66,332.09 601.15,331.80 601.65,331.50 602.14,331.21 602.64,330.92 603.13,330.63 603.63,330.34 604.13,330.06 604.62,329.77 605.12,329.49 605.61,329.21 606.11,328.93 606.61,328.65 607.10,328.38 607.60,328.11 608.09,327.84 608.59,327.57 609.08,327.30 609.58,327.04 610.08,326.77 610.57,326.51 611.07,326.26 611.56,326.00 612.06,325.75 612.56,325.50 613.05,325.26 613.55,325.01 614.04,324.77 614.54,324.54 615.03,324.30 615.53,324.07 616.03,323.85 616.52,323.62 617.02,323.40 617.51,323.18 618.01,322.97 618.51,322.76 619.00,322.55 619.50,322.35 619.99,322.15 620.49,321.96 620.98,321.77 621.48,321.58 621.98,321.39 622.47,321.21 622.97,321.03 623.46,320.86 623.96,320.68 624.45,320.51 624.95,320.34 625.45,320.18 625.94,320.01 626.44,319.85 626.93,319.69 627.43,319.53 627.93,319.37 628.42,319.22 628.92,319.07 629.41,318.91 629.91,318.76 630.40,318.61 630.90,318.46 631.40,318.32 631.89,318.17 632.39,318.02 632.88,317.87 633.38,317.73 633.88,317.58 634.37,317.44 634.87,317.29 635.36,317.14 635.86,317.00 636.35,316.85 636.85,316.70 637.35,316.56 637.84,316.41 638.34,316.26 638.83,316.11 639.33,315.96 639.83,315.80 640.32,315.65 640.82,315.49 641.31,315.33 641.81,315.18 642.30,315.01 642.80,314.85 643.30,314.69 643.79,314.52 644.29,314.35 644.78,314.17 645.28,314.00 645.78,313.82 646.27,313.64 646.77,313.46 647.26,313.27 647.76,313.08 648.25,312.88 648.75,312.69 649.25,312.49 649.74,312.28 650.24,312.07 650.73,311.86 651.23,311.64 651.73,311.42 652.22,311.20 652.72,310.97 653.21,310.73 653.71,310.49 654.20,310.25 654.70,310.00 655.20,309.74 655.69,309.48 656.19,309.22 656.68,308.95 657.18,308.67 657.68,308.39 658.17,308.10 658.67,307.81 659.16,307.51 659.66,307.20 660.15,306.89 660.65,306.57 661.15,306.24 661.64,305.91 662.14,305.57 662.63,305.22 663.13,304.87 663.63,304.51 664.12,304.14 664.62,303.76 665.11,303.38 665.61,302.99 666.10,302.59 666.60,302.18 667.10,301.77 667.59,301.35 668.09,300.91 668.58,300.47 669.08,300.02 669.58,299.57 670.07,299.10 670.57,298.62 671.06,298.14 671.56,297.65 672.05,297.14 672.55,296.63 673.05,296.11 673.54,295.57 674.04,295.03 674.53,294.48 675.03,293.92 675.53,293.35 676.02,292.76 676.52,292.17 677.01,291.57 677.51,290.95 678.00,290.33 678.50,289.69" fill="none" stroke="#2a752f" stroke-width="1.1" stroke-linejoin="round"/>
<line x1="381.5" y1="473.5" x2="381.5" y2="475.7" stroke="#777" stroke-width="0.9"/><line x1="440.5" y1="473.5" x2="440.5" y2="475.7" stroke="#777" stroke-width="0.9"/><line x1="500.5" y1="473.5" x2="500.5" y2="475.7" stroke="#777" stroke-width="0.9"/><line x1="559.5" y1="473.5" x2="559.5" y2="475.7" stroke="#777" stroke-width="0.9"/><line x1="619.5" y1="473.5" x2="619.5" y2="475.7" stroke="#777" stroke-width="0.9"/><line x1="678.5" y1="473.5" x2="678.5" y2="475.7" stroke="#777" stroke-width="0.9"/><line x1="379.3" y1="473.5" x2="381.5" y2="473.5" stroke="#777" stroke-width="0.9"/><line x1="379.3" y1="440.5" x2="381.5" y2="440.5" stroke="#777" stroke-width="0.9"/><line x1="379.3" y1="407.5" x2="381.5" y2="407.5" stroke="#777" stroke-width="0.9"/><line x1="379.3" y1="375.5" x2="381.5" y2="375.5" stroke="#777" stroke-width="0.9"/><line x1="379.3" y1="342.5" x2="381.5" y2="342.5" stroke="#777" stroke-width="0.9"/><line x1="379.3" y1="309.5" x2="381.5" y2="309.5" stroke="#777" stroke-width="0.9"/>
<g font-family='"Liberation Serif", serif' fill="#000" stroke="#000" stroke-width="0.1"><text transform="translate(376.90 476.80) scale(1 1.12)" font-size="8.8" text-anchor="end">0</text><text transform="translate(376.90 443.98) scale(1 1.12)" font-size="8.8" text-anchor="end">10</text><text transform="translate(376.90 411.15) scale(1 1.12)" font-size="8.8" text-anchor="end">20</text><text transform="translate(376.90 378.33) scale(1 1.12)" font-size="8.8" text-anchor="end">30</text><text transform="translate(376.90 345.51) scale(1 1.12)" font-size="8.8" text-anchor="end">40</text><text transform="translate(376.90 312.68) scale(1 1.12)" font-size="8.8" text-anchor="end">50</text><text transform="translate(379.50 482.50) rotate(-45)" font-size="9.5" text-anchor="end">27/09/2024</text><text transform="translate(438.90 482.50) rotate(-45)" font-size="9.5" text-anchor="end">29/09/2024</text><text transform="translate(498.30 482.50) rotate(-45)" font-size="9.5" text-anchor="end">01/10/2024</text><text transform="translate(557.70 482.50) rotate(-45)" font-size="9.5" text-anchor="end">03/10/2024</text><text transform="translate(617.10 482.50) rotate(-45)" font-size="9.5" text-anchor="end">05/10/2024</text><text transform="translate(676.50 482.50) rotate(-45)" font-size="9.5" text-anchor="end">07/10/2024</text><text transform="translate(530.00 523.00) scale(1 1.12)" font-size="9.0" text-anchor="middle">Date</text><text transform="translate(363.50 377.00) rotate(-90)" font-size="8.5" text-anchor="middle">Number of individuals</text><text transform="translate(381.70 274.00) scale(1 1.12)" font-size="9.2">(d)</text></g>
</g></svg>
</body></html>
